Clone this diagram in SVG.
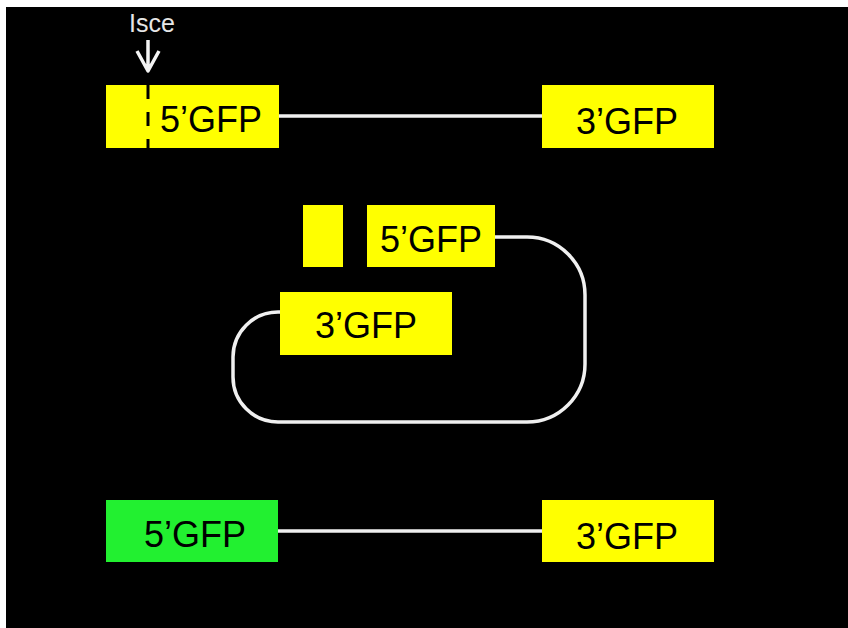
<svg xmlns="http://www.w3.org/2000/svg" width="848" height="628" viewBox="0 0 848 628">
  <style>
    .seg { fill: #ffff00; }
    .seg-on { fill: #22f030; }
    .lbl { font-family: "Liberation Sans", Arial, sans-serif; font-size: 36px; fill: #000; text-anchor: middle; }
    .wire { stroke: #f0f0f0; stroke-width: 3.5; fill: none; }
    .tag { font-family: "Liberation Sans", Arial, sans-serif; font-size: 25px; fill: #e6e6e6; text-anchor: middle; }
  </style>
  <rect x="0" y="0" width="848" height="628" fill="#ffffff"/>
  <rect x="6" y="7" width="842" height="621" fill="#000000"/>

  <g id="connectors">
    <line class="wire" x1="278" y1="116" x2="543" y2="116"/>
    <path class="wire" d="M495,237 H527 A58,58 0 0 1 585,295 V364 A58,58 0 0 1 527,422 H278 A45,45 0 0 1 233,377 V357 A45,45 0 0 1 278,312 H281"/>
    <line class="wire" x1="278" y1="531" x2="543" y2="531"/>
  </g>

  <!-- I-SceI cut site marker -->
  <g id="isce">
    <text class="tag" x="152" y="32">Isce</text>
    <path d="M148,40 V71 M137,51 L148,71 L159,51" stroke="#f4f4f4" stroke-width="3.5" fill="none" stroke-linejoin="round"/>
  </g>

  <!-- top row: reporter with cut site -->
  <g id="top-5gfp">
    <rect class="seg" x="106" y="85" width="173" height="63"/>
    <line x1="148" y1="85" x2="148" y2="148" stroke="#000" stroke-width="3" stroke-dasharray="14 13"/>
    <text class="lbl" x="211" y="132">5’GFP</text>
  </g>
  <g id="top-3gfp">
    <rect class="seg" x="542" y="85" width="172" height="63"/>
    <text class="lbl" x="627" y="134">3’GFP</text>
  </g>

  <!-- middle: broken end and loop -->
  <g id="mid-stub">
    <rect class="seg" x="303" y="205" width="40" height="62"/>
  </g>
  <g id="mid-5gfp">
    <rect class="seg" x="367" y="205" width="128" height="62"/>
    <text class="lbl" x="431" y="252">5’GFP</text>
  </g>
  <g id="mid-3gfp">
    <rect class="seg" x="280" y="292" width="172" height="63"/>
    <text class="lbl" x="366" y="338">3’GFP</text>
  </g>

  <!-- bottom row: repaired reporter -->
  <g id="bot-5gfp">
    <rect class="seg-on" x="106" y="500" width="172" height="62"/>
    <text class="lbl" x="195" y="547">5’GFP</text>
  </g>
  <g id="bot-3gfp">
    <rect class="seg" x="542" y="500" width="172" height="62"/>
    <text class="lbl" x="627" y="549">3’GFP</text>
  </g>
</svg>
